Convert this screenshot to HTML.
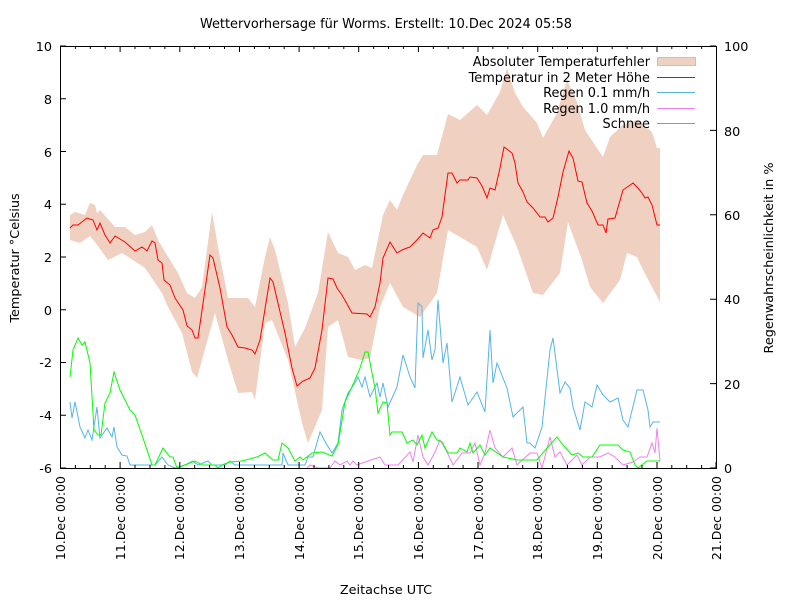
<!DOCTYPE html>
<html><head><meta charset="utf-8"><style>body{margin:0;background:#fff}svg{display:block;font-family:"DejaVu Sans","Liberation Sans",sans-serif}</style></head><body>
<svg width="800" height="600" viewBox="0 0 800 600" xmlns="http://www.w3.org/2000/svg">
<rect width="800" height="600" fill="#fff"/>
<text x="386" y="28" font-size="12.9" text-anchor="middle">Wettervorhersage für Worms. Erstellt: 10.Dec 2024 05:58</text>
<polygon fill="#f0d0c0" points="70,215 75,212 85,215 90,203 95,205 97,213 100,210 115,227 125,227 135,235 145,232 152,225 158,240 167,255 178,273 187,293 195,298 202,287 212,212 218,247 228,298 248,298 255,307 265,257 270,237 275,250 288,303 295,347 305,328 318,293 328,232 338,253 348,257 355,270 365,265 372,268 383,215 390,200 397,210 403,195 417,165 423,155 437,155 448,114 460,120 477,105 487,115 500,92 507,68 515,93 523,107 537,123 543,138 557,113 567,80 577,102 585,130 603,157 610,137 623,125 637,120 652,132 657,148 660,148 660,302 643,270 637,257 627,253 620,280 603,303 590,287 582,260 568,222 560,273 543,295 533,293 517,247 503,215 487,270 477,247 460,237 448,230 437,293 420,317 403,307 390,283 380,307 370,358 362,360 348,357 338,320 328,327 322,410 308,443 302,423 288,360 272,320 265,323 255,400 252,392 238,393 228,360 215,313 202,360 197,378 192,372 182,333 167,305 162,293 145,268 122,253 108,260 95,242 90,236 80,243 70,240"/>
<g fill="none" stroke-width="1">
<polyline stroke="#f00" points="70,228 73,225 78,225 87,218 93,220 97,230 100,223 105,235 110,243 115,236 125,242 135,251 142,247 147,251 152,241 155,243 158,260 162,263 164,280 170,285 175,298 183,310 187,326 192,330 195,338 198,338 210,255 213,258 220,288 227,327 232,335 238,347 245,348 252,350 255,354 260,340 270,278 273,282 285,333 292,368 297,386 303,381 310,378 315,368 322,330 328,278 333,279 337,288 342,295 352,313 367,314 370,317 375,307 380,283 383,258 390,242 397,253 402,250 407,248 410,247 417,240 423,233 430,238 433,230 438,228 442,217 448,173 452,173 457,183 460,180 468,180 470,177 477,178 482,186 487,198 490,188 495,190 500,168 504,147 512,153 515,163 518,183 523,192 527,202 533,208 540,217 545,217 548,222 553,218 558,197 563,172 569,151 573,158 578,181 582,182 587,203 592,211 598,225 603,225 606,233 608,219 615,218 623,190 633,183 637,187 642,193 645,198 648,197 652,205 657,225 660,225"/>
<polyline stroke="#ee82ee" points="307,468 310,465 318,468 330,468 335,461 340,465 347,461 350,465 353,461 357,465 368,461 380,457 385,465 398,465 410,452 413,462 418,435 423,457 428,465 435,452 440,440 447,452 453,465 462,453 470,453 475,443 480,465 485,453 490,430 495,448 503,457 512,448 517,465 530,453 537,453 542,468 550,437 555,457 560,452 567,465 577,455 582,465 590,457 600,457 608,453 615,457 623,465 633,462 640,457 647,457 652,443 655,453 657,428 660,461"/>
<polyline stroke="#56b4e9" points="70,402 72,418 75,402 80,427 85,438 88,430 92,440 97,407 100,438 107,428 112,437 114,427 117,447 122,455 127,456 130,465 155,465 162,457 168,465 175,468 185,465 193,461 198,465 208,461 212,465 225,465 230,461 235,465 282,465 283,453 288,465 305,465 308,457 313,457 320,432 327,445 332,453 338,443 342,410 348,393 355,383 358,377 362,387 365,377 370,397 377,383 380,397 383,383 388,407 397,387 403,355 410,377 415,388 418,303 422,307 423,358 428,330 432,360 435,350 438,300 443,363 447,343 452,402 460,377 468,405 477,392 485,412 490,330 493,383 497,363 507,388 513,417 523,407 527,443 530,443 535,448 542,427 550,350 553,338 560,393 565,382 570,388 573,407 580,430 585,402 592,407 597,385 603,395 610,402 618,398 623,420 628,427 637,390 643,390 648,410 650,427 653,422 660,422"/>
<polyline stroke="#00ff00" points="70,377 73,350 78,338 82,345 85,342 90,363 94,430 98,435 101,435 105,403 110,393 114,372 120,390 125,400 130,410 135,415 143,438 152,465 155,465 163,448 170,457 173,457 177,468 185,465 195,461 202,465 215,465 218,468 222,465 230,462 242,461 257,457 265,453 273,460 278,460 282,443 288,448 295,461 300,457 303,460 312,453 322,452 332,456 338,445 345,402 355,380 360,368 365,352 368,352 372,373 375,388 378,413 383,402 387,403 390,435 392,432 402,432 407,443 413,440 417,445 422,435 425,448 432,432 437,440 442,442 448,453 457,453 460,448 467,452 470,443 473,453 480,445 485,455 490,448 503,457 517,460 537,460 547,448 557,437 563,445 572,455 578,453 583,457 592,457 600,445 605,445 618,445 623,450 630,452 635,465 638,468 647,461 660,461"/>
</g>
<rect x="60.5" y="46.5" width="656" height="422" fill="none" stroke="#000"/>
<g stroke="#000">
<path d="M60,468h6M60,415.25h6M60,362.5h6M60,309.75h6M60,257h6M60,204.25h6M60,151.5h6M60,98.75h6M60,46h6"/>
<path d="M716,468h-6M716,383.6h-6M716,299.2h-6M716,214.8h-6M716,130.4h-6M716,46h-6"/>
<path d="M60.5,468v-6M120.1,468v-6M179.8,468v-6M239.5,468v-6M299.1,468v-6M358.7,468v-6M418.4,468v-6M478,468v-6M537.7,468v-6M597.3,468v-6M657,468v-6M716,468v-6
M60.5,46v6M120.1,46v6M179.8,46v6M239.5,46v6M299.1,46v6M358.7,46v6M418.4,46v6M478,46v6M537.7,46v6M597.3,46v6M657,46v6"/>
<path d="M75.4,468v-3M90.3,468v-3M105.2,468v-3M135,468v-3M150,468v-3M164.9,468v-3M194.7,468v-3M209.6,468v-3M224.5,468v-3M254.4,468v-3M269.3,468v-3M284.2,468v-3M314,468v-3M328.9,468v-3M343.8,468v-3M373.6,468v-3M388.5,468v-3M403.4,468v-3M433.3,468v-3M448.2,468v-3M463.1,468v-3M492.9,468v-3M507.8,468v-3M522.7,468v-3M552.6,468v-3M567.5,468v-3M582.4,468v-3M612.2,468v-3M627.1,468v-3M642,468v-3M671.8,468v-3M686.7,468v-3M701.6,468v-3
M75.4,46v3M90.3,46v3M105.2,46v3M135,46v3M150,46v3M164.9,46v3M194.7,46v3M209.6,46v3M224.5,46v3M254.4,46v3M269.3,46v3M284.2,46v3M314,46v3M328.9,46v3M343.8,46v3M373.6,46v3M388.5,46v3M403.4,46v3M433.3,46v3M448.2,46v3M463.1,46v3M492.9,46v3M507.8,46v3M522.7,46v3M552.6,46v3M567.5,46v3M582.4,46v3M612.2,46v3M627.1,46v3M642,46v3M671.8,46v3M686.7,46v3M701.6,46v3"/>
</g>
<g font-size="12.8" text-anchor="end">
<text x="52" y="473">-6</text><text x="52" y="420">-4</text><text x="52" y="367">-2</text><text x="52" y="315">0</text><text x="52" y="262">2</text><text x="52" y="209">4</text><text x="52" y="157">6</text><text x="52" y="104">8</text><text x="52" y="51">10</text>
</g>
<g font-size="12.8" text-anchor="start">
<text x="724" y="473">0</text><text x="724" y="389">20</text><text x="724" y="304">40</text><text x="724" y="220">60</text><text x="724" y="136">80</text><text x="724" y="51">100</text>
</g>
<g font-size="12.5" text-anchor="end">
<text transform="translate(65,476) rotate(-90)">10.Dec 00:00</text>
<text transform="translate(125,476) rotate(-90)">11.Dec 00:00</text>
<text transform="translate(184,476) rotate(-90)">12.Dec 00:00</text>
<text transform="translate(244,476) rotate(-90)">13.Dec 00:00</text>
<text transform="translate(304,476) rotate(-90)">14.Dec 00:00</text>
<text transform="translate(363,476) rotate(-90)">15.Dec 00:00</text>
<text transform="translate(423,476) rotate(-90)">16.Dec 00:00</text>
<text transform="translate(483,476) rotate(-90)">17.Dec 00:00</text>
<text transform="translate(542,476) rotate(-90)">18.Dec 00:00</text>
<text transform="translate(602,476) rotate(-90)">19.Dec 00:00</text>
<text transform="translate(662,476) rotate(-90)">20.Dec 00:00</text>
<text transform="translate(721,476) rotate(-90)">21.Dec 00:00</text>
</g>
<text x="386" y="594" font-size="12.8" text-anchor="middle">Zeitachse UTC</text>
<text transform="translate(19,258) rotate(-90)" font-size="12.8" text-anchor="middle">Temperatur °Celsius</text>
<text transform="translate(773,258) rotate(-90)" font-size="12.8" text-anchor="middle">Regenwahrscheinlichkeit in %</text>
<g font-size="12.9" text-anchor="end">
<text x="650" y="66">Absoluter Temperaturfehler</text>
<text x="650" y="82">Temperatur in 2 Meter Höhe</text>
<text x="650" y="97">Regen 0.1 mm/h</text>
<text x="650" y="113">Regen 1.0 mm/h</text>
<text x="650" y="128">Schnee</text>
</g>
<rect x="657.5" y="57.5" width="38" height="8" fill="#f0d0c0" stroke="#e0b8a4"/>
<rect x="657" y="77" width="38" height="1" fill="#ff0000"/>
<rect x="657" y="92" width="38" height="1" fill="#56b4e9"/>
<rect x="657" y="108" width="38" height="1" fill="#ee82ee"/>
<rect x="657" y="123" width="38" height="1" fill="#00ff00"/>
</svg>
</body></html>
